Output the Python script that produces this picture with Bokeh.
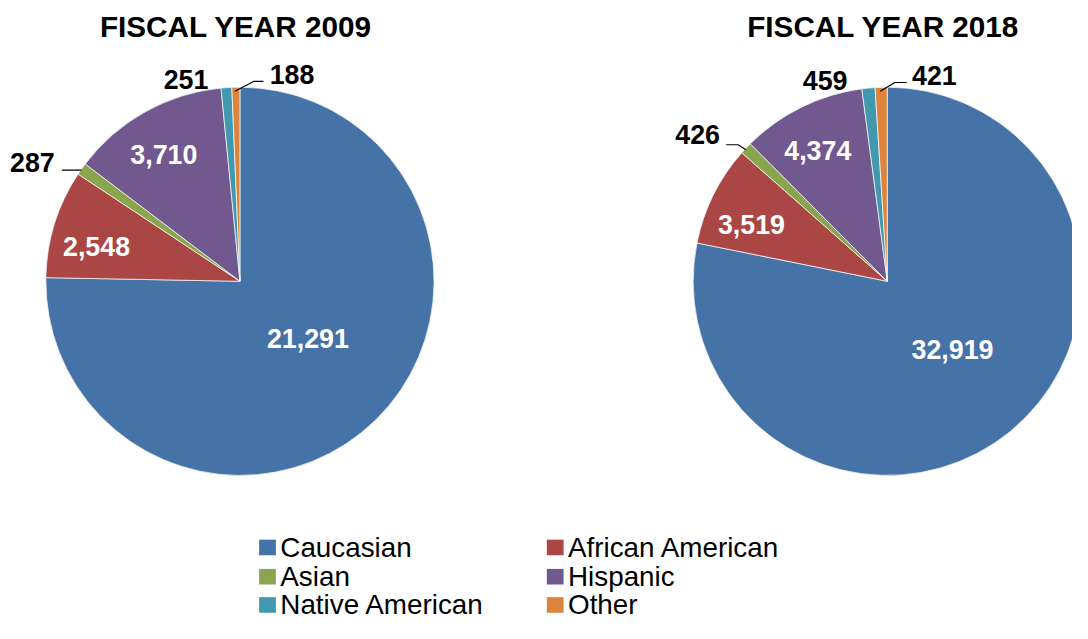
import math
from bokeh.plotting import figure
from bokeh.models import Range1d, ColumnDataSource
from bokeh.core.properties import value
from bokeh.embed import file_html
from bokeh.resources import INLINE

# ---------------- data ----------------
categories = ["Caucasian", "African American", "Asian", "Hispanic", "Native American", "Other"]
fy2009 = [21291, 2548, 287, 3710, 251, 188]
fy2018 = [32919, 3519, 426, 4374, 459, 421]
titles = ["FISCAL YEAR 2009", "FISCAL YEAR 2018"]
colors = ["#4572A7", "#AA4643", "#89A54E", "#71588F", "#4198AF", "#DB843D"]

# ---------------- layout ----------------
W, H = 1072, 623          # figure size in px (fits the window with 8px margin)
REF_W, REF_H = 1088, 639  # layout design grid
S = min(W / REF_W, H / REF_H)


def Y(sy):
    """design-grid y (downwards) -> data y"""
    return REF_H - sy


def fs(px):
    return f"{px * S:.1f}px"


FONT = value("Liberation Sans")
R = 197

pies = [
    dict(values=fy2009, title=titles[0], cx=243, cy=288, tx=239, ty=27,
         inside={0: (0.46, 5.1), 1: (0.76, 3.7), 3: (0.77, 1.4)},
         outside={2: dict(label=(-50, -8), leader=[(0, 0), (-20, 0)]),
                  4: dict(label=(-41, -10), leader=None),
                  5: dict(label=(57, -15), leader=[(-1, 2), (18, -8), (28, -8)])}),
    dict(values=fy2018, title=titles[1], cx=900, cy=288, tx=896, ty=27,
         inside={0: (0.49, 4.0), 1: (0.76, 3.4), 3: (0.77, 1.5)},
         outside={2: dict(label=(-49, -16), leader=[(0, 0), (-8, -5), (-20, -5)]),
                  4: dict(label=(-44, -10), leader=None),
                  5: dict(label=(54, -14), leader=[(-1, 2), (14, -7), (26, -7)])}),
]

p = figure(width=W, height=H, x_range=Range1d(0, REF_W), y_range=Range1d(0, REF_H),
           output_backend="svg", toolbar_location=None,
           x_axis_type=None, y_axis_type=None, min_border=0)
p.outline_line_color = None
p.background_fill_color = "white"
p.border_fill_color = "white"
p.grid.visible = False

for pie in pies:
    vals = pie["values"]
    total = float(sum(vals))
    cum = [0.0]
    for v in vals:
        cum.append(cum[-1] + v / total)
    starts = [math.pi / 2 - 2 * math.pi * c for c in cum[:-1]]
    ends = [math.pi / 2 - 2 * math.pi * c for c in cum[1:]]
    mids = [(s + e) / 2 for s, e in zip(starts, ends)]
    cx, cy = pie["cx"], Y(pie["cy"])

    src = ColumnDataSource(dict(start=starts, end=ends, color=colors, cat=categories))
    p.wedge(x=cx, y=cy, radius=R, start_angle="start", end_angle="end", direction="clock",
            fill_color="color", line_color="white", line_width=0.7, source=src)

    # inside labels
    ix, iy, itxt = [], [], []
    for i, (rf, dang) in pie["inside"].items():
        a = mids[i] + math.radians(dang)
        ix.append(cx + rf * R * math.cos(a))
        iy.append(cy + rf * R * math.sin(a))
        itxt.append(f"{vals[i]:,}")
    p.text(x=ix, y=iy, text=itxt, text_color="white", text_font=FONT, text_font_style="bold",
           text_font_size=fs(27.5), text_align="center", text_baseline="middle")

    # outside labels with leader lines
    ox, oy, otxt = [], [], []
    for i, cfg in pie["outside"].items():
        ex = cx + R * math.cos(mids[i])
        ey = cy + R * math.sin(mids[i])
        dx, dy = cfg["label"]
        ox.append(ex + dx)
        oy.append(ey - dy)
        otxt.append(f"{vals[i]:,}")
        if cfg["leader"]:
            p.line(x=[ex + a for a, b in cfg["leader"]], y=[ey - b for a, b in cfg["leader"]],
                   line_color="black", line_width=1.2)
    p.text(x=ox, y=oy, text=otxt, text_color="black", text_font=FONT, text_font_style="bold",
           text_font_size=fs(27.5), text_align="center", text_baseline="middle")

    # title
    p.text(x=[pie["tx"]], y=[Y(pie["ty"])], text=[pie["title"]], text_color="black",
           text_font=FONT, text_font_style="bold", text_font_size=fs(30.5),
           text_align="center", text_baseline="middle")

# ---------------- legend ----------------
col_marker_x = [271, 563]
col_text_x = [284, 576]
row_y = [561, 591, 620]
lx, ly, ltx, lty = [], [], [], []
for k, cat in enumerate(categories):
    r, c = divmod(k, 2)
    lx.append(col_marker_x[c])
    ly.append(Y(row_y[r]))
    ltx.append(col_text_x[c])
    lty.append(Y(row_y[r]))
p.rect(x=lx, y=ly, width=17, height=16, fill_color=colors, line_color=None)
p.text(x=ltx, y=lty, text=categories, text_color="black", text_font=FONT,
       text_font_size=fs(28.5), text_align="left", text_baseline="middle")

open("out.html", "w").write(file_html(p, INLINE))
